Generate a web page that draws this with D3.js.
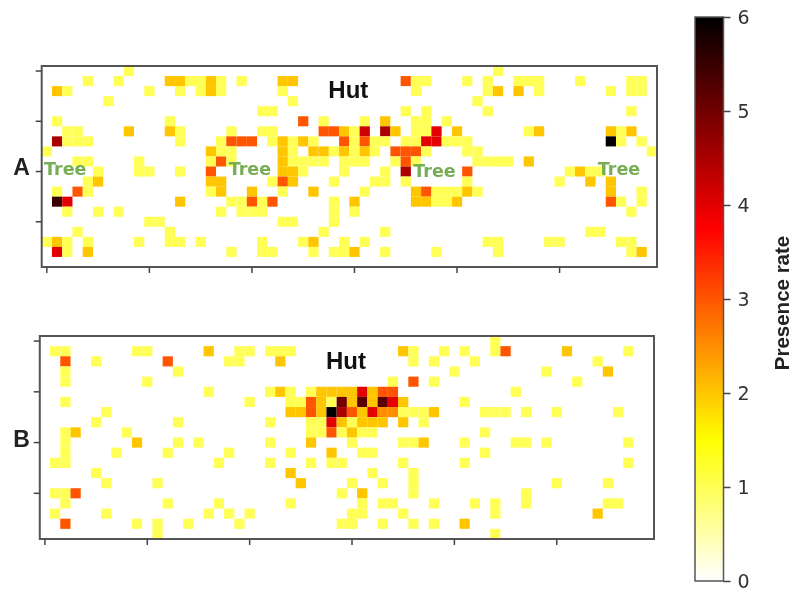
<!DOCTYPE html>
<html>
<head>
<meta charset="utf-8">
<script src="https://cdn.jsdelivr.net/npm/d3@7"></script>
<style>
  html, body { margin: 0; padding: 0; background: #fff; }
  svg { display: block; filter: blur(0.5px); }
</style>
</head>
<body>
<div id="chart"></div>
<script>
// Presence rate per row of the grid: each entry is [column, value], empty cells are 0.
var rowsA = [
  [[8,1],[44,1]],
  [[4,1],[7,1],[12,2],[13,2],[14,1],[15,1],[16,2],[17,1],[19,1],[23,2],[24,2],[35,3],[36,1],[37,1],[41,1],[43,1],[46,1],[47,1],[48,1],[52,1],[57,1],[58,1]],
  [[1,2],[2,1],[10,1],[13,1],[15,1],[16,2],[17,1],[23,1],[36,1],[43,1],[44,2],[46,2],[48,1],[55,1],[57,1],[58,1]],
  [[6,1],[24,1],[42,1]],
  [[21,1],[22,1],[35,1],[37,1],[43,1],[57,1]],
  [[1,1],[12,1],[25,3],[27,1],[31,1],[33,2],[36,1],[37,1],[39,1]],
  [[2,1],[3,1],[8,2],[12,2],[13,1],[18,1],[21,1],[22,1],[27,3],[28,3],[29,2],[30,1],[31,4.2],[33,4.5],[34,2],[36,1],[37,1],[38,4],[40,2],[47,1],[48,2],[55,2],[56,1],[57,2]],
  [[1,4.5],[2,1],[3,1],[4,1],[13,1],[17,1],[18,3],[19,3],[20,3],[22,1],[23,2],[24,1],[25,2],[26,1],[29,3],[30,1],[31,3],[32,1],[33,1],[35,1],[36,1],[37,4],[38,4],[39,1],[40,1],[41,1],[55,6],[56,1],[58,1]],
  [[0,1],[16,2],[17,1],[18,1],[23,2],[24,1],[26,2],[27,2],[28,1],[29,2],[30,1],[31,2],[32,1],[34,3],[35,3],[36,3],[37,1],[41,1],[42,1],[59,1]],
  [[3,1],[4,1],[9,1],[16,1],[17,3],[18,1],[23,2],[24,1],[25,1],[26,1],[27,1],[29,1],[30,1],[31,1],[34,1],[35,3],[36,1],[42,1],[43,1],[44,1],[45,1],[47,2]],
  [[5,1],[9,1],[10,1],[13,1],[16,3],[23,2],[24,2],[25,1],[29,1],[33,1],[35,4.5],[41,3],[51,1],[52,2],[53,1],[54,1]],
  [[4,1],[5,2],[16,2],[17,2],[22,1],[23,3],[24,2],[28,1],[32,1],[33,1],[35,1],[41,1],[50,1],[53,2],[55,2]],
  [[1,1],[3,3],[4,1],[16,1],[17,2],[20,2],[23,1],[26,2],[31,1],[36,2],[37,3],[38,1],[39,1],[40,1],[41,2],[42,1],[55,2],[58,1]],
  [[1,5.5],[2,4],[13,2],[18,1],[19,1],[20,3],[21,1],[22,3],[28,1],[30,2],[36,2],[37,2],[38,1],[39,1],[40,2],[55,3],[56,1],[58,1]],
  [[2,1],[5,1],[7,1],[17,1],[19,1],[20,1],[21,1],[28,1],[30,1],[57,1]],
  [[10,1],[11,1],[23,1],[24,1],[28,1]],
  [[3,1],[12,1],[27,1],[33,1],[53,1],[54,1]],
  [[0,1],[1,2],[2,1],[4,1],[9,1],[12,1],[13,1],[15,1],[21,1],[25,1],[26,2],[29,1],[31,1],[43,1],[44,1],[49,1],[50,1],[56,1],[57,1]],
  [[1,4],[2,1],[4,2],[18,1],[21,1],[22,1],[26,1],[28,1],[29,1],[30,2],[33,1],[38,1],[44,1],[57,1],[58,2]],
  []
];

var rowsB = [
  [[44,1]],
  [[1,1],[2,1],[9,1],[10,1],[16,2],[19,1],[20,1],[22,1],[23,1],[24,1],[35,2],[36,1],[39,1],[41,1],[44,1],[45,3],[51,2],[57,1]],
  [[2,3],[5,1],[12,3],[18,1],[19,1],[23,2],[36,1],[38,1],[42,1],[54,1]],
  [[2,1],[13,1],[40,1],[49,1],[55,2]],
  [[2,1],[10,1],[34,1],[36,3],[38,1],[52,1]],
  [[16,1],[22,1],[23,2],[24,1],[26,1],[27,2],[28,2],[29,2],[30,2],[31,4],[32,2],[33,3],[34,3],[46,1]],
  [[2,1],[20,1],[24,1],[25,1],[26,3],[27,2],[28,1],[29,5],[30,2],[31,5.2],[32,2],[33,5.2],[34,4],[35,2],[41,1]],
  [[6,1],[24,2],[25,2],[26,3],[27,2],[28,6],[29,4.5],[30,3],[31,2],[32,4],[33,2.5],[34,2.5],[35,1],[36,1],[37,1],[38,2],[43,1],[44,1],[45,1],[47,1],[50,1],[56,1]],
  [[5,1],[13,1],[22,1],[26,1],[27,1],[28,4],[29,2],[30,1],[31,2],[32,2],[33,2],[35,2],[37,1]],
  [[2,1],[3,2],[8,1],[26,1],[27,1],[28,3],[29,1],[30,2],[31,1],[32,1],[43,1]],
  [[2,1],[9,2],[13,1],[15,1],[22,1],[26,2],[30,1],[35,1],[36,1],[37,2],[41,1],[46,1],[47,1],[49,1],[57,1]],
  [[2,1],[7,1],[12,1],[18,1],[24,1],[28,2],[31,1],[32,1],[43,1]],
  [[1,1],[2,1],[17,1],[22,1],[26,1],[28,1],[29,1],[35,1],[41,1],[57,1]],
  [[5,1],[24,2],[32,1],[36,1]],
  [[6,1],[11,1],[25,2],[30,1],[33,1],[36,1],[50,1],[55,1]],
  [[1,1],[2,1],[3,3],[29,1],[31,2],[36,1],[47,1]],
  [[2,1],[12,1],[17,1],[24,1],[31,1],[33,1],[34,1],[38,1],[42,1],[44,1],[47,1],[55,1],[56,1]],
  [[1,1],[6,1],[16,1],[18,1],[20,1],[30,1],[31,1],[35,1],[44,1],[54,2]],
  [[2,3],[9,1],[11,1],[14,1],[19,1],[29,1],[30,1],[33,1],[36,1],[38,1],[41,2]],
  [[11,1],[44,1]]
];

var columnCount = 60;
var rowCount = 20;
var xTicks = [0, 10, 20, 30, 40, 50];
var yTicks = [0, 5, 10, 15];
var colorTicks = [0, 1, 2, 3, 4, 5, 6];
var colorStops = [0, 1.5, 3.75, 6];
var colorRange = ["#ffffff", "#ffff00", "#ff0000", "#000000"];
var treeLabels = [[1.8, 10.2], [19.8, 10.2], [37.8, 10.4], [55.8, 10.2]];

var width = 792, height = 594;
var sansBold = "'Liberation Sans', Arial, sans-serif";
var tickColor = "#444";

var svg = d3.select("#chart").append("svg")
  .attr("width", width)
  .attr("height", height);

var color = d3.scaleLinear().domain(colorStops).range(colorRange).clamp(true);

// One heat map panel
function drawPanel(opts) {
  var x = d3.scaleBand().domain(d3.range(columnCount)).range([opts.left, opts.right]);
  var y = d3.scaleBand().domain(d3.range(rowCount)).range([opts.top, opts.bottom]);

  var cells = [];
  opts.rows.forEach(function (row, r) {
    row.forEach(function (c) {
      cells.push({ row: r, col: c[0], value: c[1] });
    });
  });

  var g = svg.append("g");

  g.selectAll("rect.cell")
    .data(cells)
    .enter().append("rect")
      .attr("class", "cell")
      .attr("x", function (d) { return x(d.col); })
      .attr("y", function (d) { return y(d.row); })
      .attr("width", x.bandwidth())
      .attr("height", y.bandwidth())
      .attr("fill", function (d) { return color(d.value); });

  g.append("rect")
    .attr("x", opts.left)
    .attr("y", opts.top)
    .attr("width", opts.right - opts.left)
    .attr("height", opts.bottom - opts.top)
    .attr("fill", "none")
    .attr("stroke", "#555")
    .attr("stroke-width", 2);

  var xAxis = g.append("g")
    .attr("transform", "translate(0," + opts.bottom + ")")
    .call(d3.axisBottom(x).tickValues(xTicks).tickSize(6).tickFormat(""));
  var yAxis = g.append("g")
    .attr("transform", "translate(" + opts.left + ",0)")
    .call(d3.axisLeft(y).tickValues(yTicks).tickSize(6).tickFormat(""));
  [xAxis, yAxis].forEach(function (axis) {
    axis.select(".domain").remove();
    axis.selectAll("line").attr("stroke", tickColor).attr("stroke-width", 1.5);
  });

  g.append("text")
    .attr("x", x(30) - 1)
    .attr("y", opts.hutY)
    .attr("text-anchor", "middle")
    .attr("font-family", sansBold)
    .attr("font-weight", "bold")
    .attr("font-size", 24)
    .attr("fill", "#111")
    .text("Hut");

  g.append("text")
    .attr("x", 21.5)
    .attr("y", opts.letterY)
    .attr("text-anchor", "middle")
    .attr("font-family", sansBold)
    .attr("font-weight", "bold")
    .attr("font-size", 23)
    .attr("fill", "#222")
    .text(opts.letter);

  g.selectAll("text.tree")
    .data(opts.trees)
    .enter().append("text")
      .attr("class", "tree")
      .attr("x", function (d) { return x(0) + d[0] * x.step() + x.bandwidth() / 2; })
      .attr("y", function (d) { return y(0) + d[1] * y.step() + 6; })
      .attr("text-anchor", "middle")
      .attr("font-family", "'DejaVu Sans', sans-serif")
      .attr("font-weight", "bold")
      .attr("font-size", 17.5)
      .attr("fill", "#76ad55")
      .text("Tree");
}

drawPanel({ rows: rowsA, left: 41.7, right: 657, top: 66, bottom: 267, hutY: 98, letter: "A", letterY: 175, trees: treeLabels });
drawPanel({ rows: rowsB, left: 39.8, right: 654, top: 336, bottom: 539, hutY: 369, letter: "B", letterY: 447, trees: [] });

// Colour bar
var barLeft = 695, barRight = 723.5, barTop = 17, barBottom = 581;
var barScale = d3.scaleLinear().domain([0, 6]).range([barBottom, barTop]);

var gradient = svg.append("defs").append("linearGradient")
  .attr("id", "presence")
  .attr("x1", 0).attr("x2", 0)
  .attr("y1", 1).attr("y2", 0);

gradient.selectAll("stop")
  .data(colorStops)
  .enter().append("stop")
    .attr("offset", function (d) { return d / 6; })
    .attr("stop-color", function (d) { return color(d); });

svg.append("rect")
  .attr("x", barLeft)
  .attr("y", barTop)
  .attr("width", barRight - barLeft)
  .attr("height", barBottom - barTop)
  .attr("fill", "url(#presence)")
  .attr("stroke", "#555")
  .attr("stroke-width", 1.5);

var barAxis = svg.append("g")
  .attr("transform", "translate(" + barRight + ",0)")
  .call(d3.axisRight(barScale).tickValues(colorTicks).tickSize(7).tickPadding(7).tickFormat(d3.format("d")));
barAxis.select(".domain").remove();
barAxis.selectAll("line").attr("stroke", tickColor).attr("stroke-width", 1.5);
barAxis.selectAll("text")
  .attr("font-family", "'DejaVu Sans', sans-serif")
  .attr("font-size", 19)
  .attr("fill", "#333");

svg.append("text")
  .attr("transform", "translate(789,303) rotate(-90)")
  .attr("text-anchor", "middle")
  .attr("font-family", sansBold)
  .attr("font-weight", "bold")
  .attr("font-size", 20.5)
  .attr("fill", "#222")
  .text("Presence rate");
</script>
</body>
</html>
